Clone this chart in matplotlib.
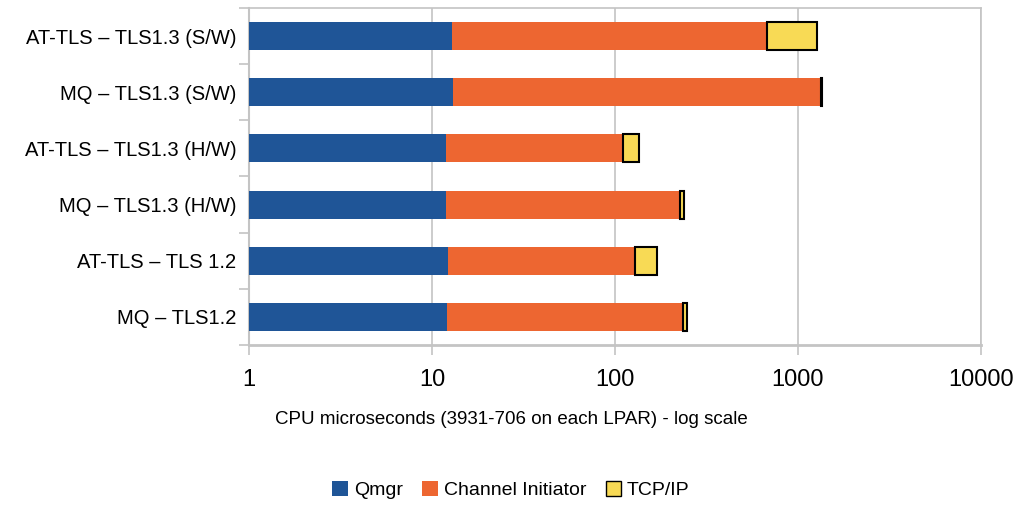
import numpy as np
import matplotlib.pyplot as plt
from matplotlib.patches import Patch

# data (CPU microseconds, stacked)
labels = ["AT-TLS – TLS1.3 (S/W)", "MQ – TLS1.3 (S/W)", "AT-TLS – TLS1.3 (H/W)",
          "MQ – TLS1.3 (H/W)", "AT-TLS – TLS 1.2", "MQ – TLS1.2"]
qmgr = [12.8, 13.0, 11.9, 11.9, 12.2, 12.1]
chin = [663, 1329, 99, 215, 117, 222]
tcpip = [595, 18, 24, 12, 41, 14]
xticks = [1, 10, 100, 1000, 10000]

plt.rcParams['font.family'] = ['Liberation Sans', 'DejaVu Sans']

blue = '#1F5597'
orange = '#ED6631'
yellow = '#F8DA55'
grid_c = '#C4C4C4'

fig = plt.figure(figsize=(10.16, 5.05), dpi=100)
ax = fig.add_axes([0.245, 0.317, 0.7205, 0.667])

y = np.arange(len(labels))
q = np.array(qmgr)
c = np.array(chin)
t = np.array(tcpip)

ax.barh(y, q, height=0.5, color=blue, zorder=3)
ax.barh(y, c, left=q, height=0.5, color=orange, zorder=3)
ax.barh(y, t, left=q + c, height=0.5, color=yellow, edgecolor='black', linewidth=1.5, zorder=3)

ax.set_xscale('log')
ax.set_xlim(1, 10000)
ax.set_ylim(len(labels) - 0.5, -0.5)
ax.set_xticks(xticks)
ax.set_xticklabels([str(v) for v in xticks], fontsize=17)
ax.xaxis.set_minor_locator(plt.NullLocator())
ax.set_yticks(y)
ax.set_yticklabels(labels, fontsize=14.5)
ax.set_yticks(np.arange(len(labels) + 1) - 0.5, minor=True)
ax.tick_params(axis='y', which='major', length=0, pad=9)
ax.tick_params(axis='y', which='minor', length=7, color=grid_c, width=1.2)
ax.tick_params(axis='x', which='major', length=7, color=grid_c, width=1.2, pad=10)

ax.grid(axis='x', color=grid_c, linewidth=1.2, zorder=0)
for s in ax.spines.values():
    s.set_color(grid_c)
    s.set_linewidth(1.2)
ax.spines['bottom'].set_linewidth(2)
ax.spines['left'].set_linewidth(1.5)

fig.text(0.503, 1 - 420 / 505, "CPU microseconds (3931-706 on each LPAR) - log scale",
         fontsize=13.5, ha='center', va='center')

handles = [Patch(facecolor=blue, label='Qmgr'),
           Patch(facecolor=orange, label='Channel Initiator'),
           Patch(facecolor=yellow, edgecolor='black', label='TCP/IP')]
fig.legend(handles=handles, loc='center', bbox_to_anchor=(0.503, 0.03), ncol=3, frameon=False,
           fontsize=14, handlelength=0.8, handleheight=0.8, handletextpad=0.3, columnspacing=1.0)

fig.savefig('out.png', dpi=100)
